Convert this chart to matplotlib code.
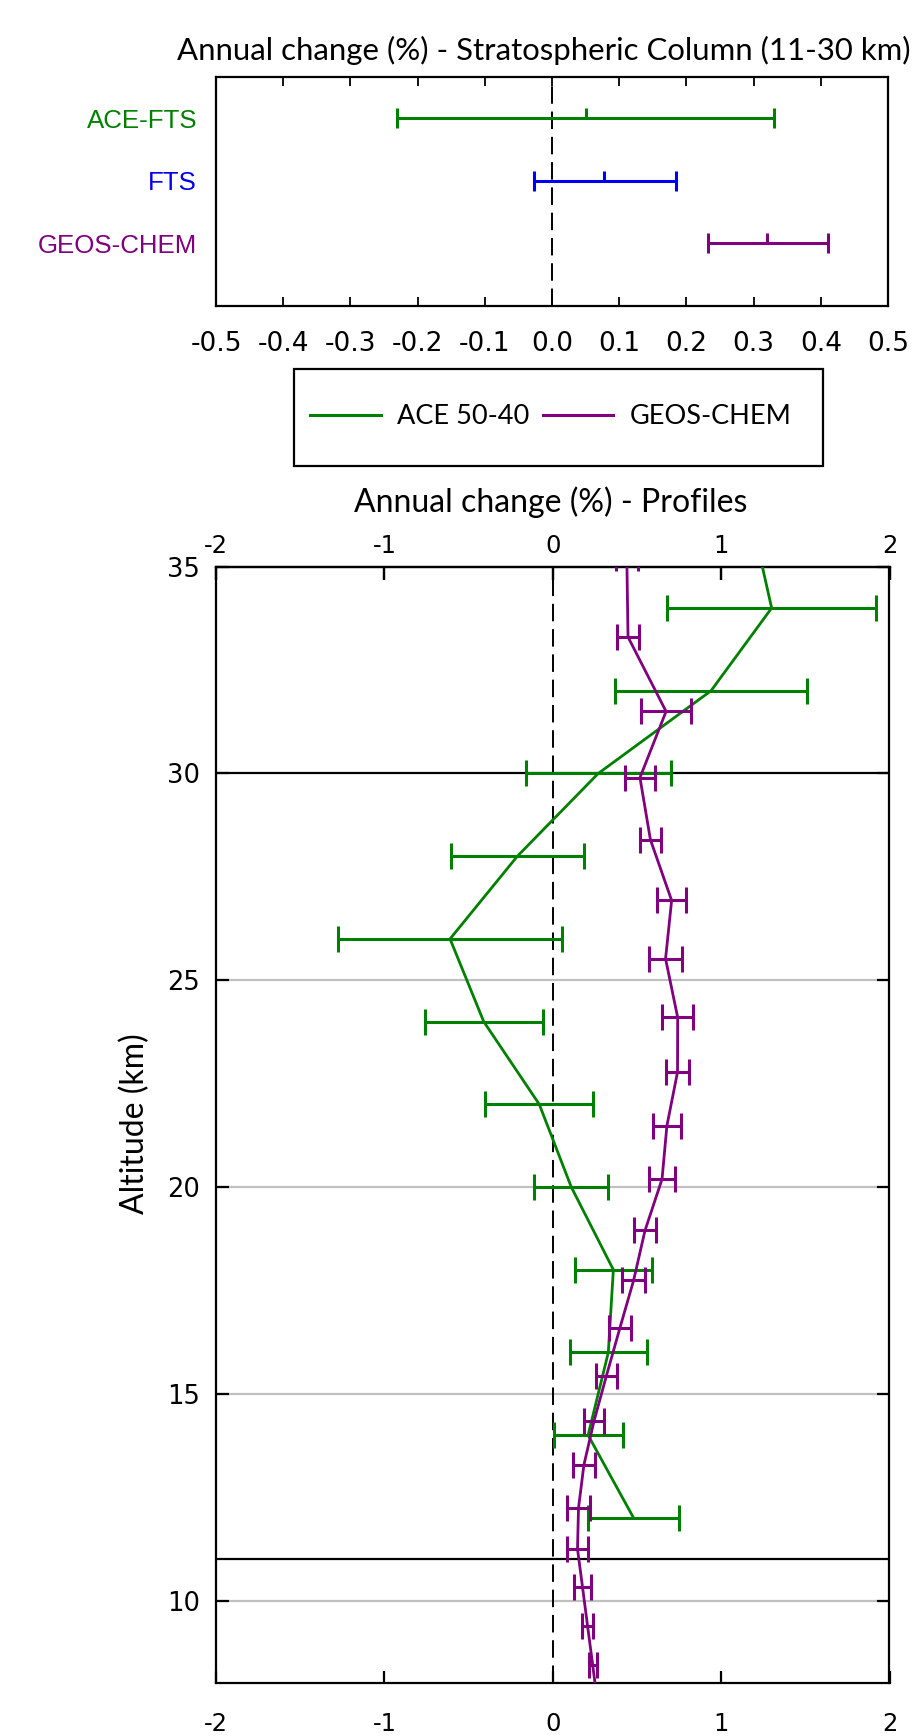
import matplotlib
matplotlib.use('Agg')
import matplotlib.pyplot as plt
from matplotlib.path import Path
from matplotlib.lines import Line2D
from matplotlib.patches import Rectangle
import numpy as np

# ---------------- data ----------------
# Top panel: stratospheric column annual change (%)
col_names = ['ACE-FTS', 'FTS', 'GEOS-CHEM']
col_mean = [0.05, 0.078, 0.32]
col_err_lo = [0.28, 0.105, 0.088]
col_err_hi = [0.28, 0.107, 0.091]
col_colors = ['#008000', '#0000ee', '#800080']

col_xticks = [-0.5, -0.4, -0.3, -0.2, -0.1, 0.0, 0.1, 0.2, 0.3, 0.4, 0.5]
col_xticklabels = ['-0.5', '-0.4', '-0.3', '-0.2', '-0.1', '0.0', '0.1', '0.2', '0.3', '0.4', '0.5']

# Bottom panel: profiles
ace_alt = [12, 14, 16, 18, 20, 22, 24, 26, 28, 30, 32, 34, 36]
ace_val = [0.48, 0.21, 0.33, 0.36, 0.11, -0.08, -0.41, -0.61, -0.21, 0.27, 0.94, 1.30, 1.19]
ace_err = [0.27, 0.205, 0.23, 0.23, 0.22, 0.32, 0.35, 0.665, 0.395, 0.43, 0.57, 0.62, 0.62]

geos_alt = [35.2, 33.3, 31.5, 29.9, 28.4, 26.93, 25.52, 24.1, 22.78, 21.48, 20.19,
            18.95, 17.74, 16.58, 15.44, 14.34, 13.28, 12.24, 11.25, 10.32, 9.38, 8.45, 7.55]
geos_val = [0.44, 0.447, 0.673, 0.518, 0.58, 0.706, 0.67, 0.742, 0.741, 0.678, 0.649,
            0.548, 0.48, 0.398, 0.319, 0.245, 0.185, 0.153, 0.147, 0.177, 0.207, 0.237, 0.265]
geos_err = [0.065, 0.065, 0.15, 0.09, 0.06, 0.085, 0.1, 0.092, 0.07, 0.085, 0.078,
            0.068, 0.07, 0.064, 0.063, 0.061, 0.067, 0.07, 0.065, 0.048, 0.032, 0.023, 0.02]

prof_xticks = [-2, -1, 0, 1, 2]
prof_xticklabels = ['-2', '-1', '0', '1', '2']
prof_yticks = [10, 15, 20, 25, 30, 35]
grid_alts = [10, 15, 20, 25]
bound_alts = [11, 30]

GREEN = '#008000'
PURPLE = '#800080'

# ---------------- figure ----------------
plt.rcParams['font.family'] = ['Lato', 'DejaVu Sans']
W, H = 918, 1736
fig = plt.figure(figsize=(W / 100, H / 100), dpi=100)

TITLEFS = 23
DV = ['DejaVu Sans']

# ---- top panel ----
ax1 = fig.add_axes([216 / W, 1 - 306 / H, 672 / W, (306 - 76.7) / H])
ys = [1, 2, 3]
half_tick = Path([(0, 0), (0, 1)])
for y, m, lo, hi, c in zip(ys, col_mean, col_err_lo, col_err_hi, col_colors):
    ax1.errorbar([m], [y], xerr=[[lo], [hi]], fmt='none', ecolor=c,
                 elinewidth=2.2, capsize=7, capthick=2.2, zorder=3)
    ax1.plot([m], [y], marker=half_tick, markersize=14.5, color=c, mew=2.2,
             ls='none', zorder=4)
ax1.axvline(0, color='k', lw=1.4, dashes=(9, 4), zorder=2)
ax1.set_xlim(-0.5, 0.5)
ax1.set_ylim(4.0, 0.333)
ax1.set_xticks(col_xticks)
ax1.set_xticklabels(col_xticklabels, fontsize=19, family=DV)
ax1.set_yticks(ys)
ax1.set_yticklabels(col_names, fontsize=18.6, family=['Liberation Sans', 'DejaVu Sans'])
for lab, c in zip(ax1.get_yticklabels(), col_colors):
    lab.set_color(c)
ax1.tick_params(axis='x', direction='in', length=6.5, width=1.3, top=True, pad=18.3)
ax1.tick_params(axis='y', length=0, pad=13.5)
for s in ax1.spines.values():
    s.set_linewidth(1.6)

fig.text(177.3 / W, 1 - 60 / H, 'Annual change (%) - Stratospheric Column (11-30 km)',
         ha='left', va='baseline', fontsize=22.4)

# ---- legend ----
fig.add_artist(Rectangle((294.3 / W, 1 - 465.7 / H), (822.5 - 294.3) / W, (465.7 - 369.3) / H,
                         transform=fig.transFigure, fill=False, lw=1.6, edgecolor='k'))
handles = [Line2D([], [], color=GREEN, lw=2.2), Line2D([], [], color=PURPLE, lw=2.2)]
fig.legend(handles, ['ACE 50-40', 'GEOS-CHEM'], loc='center', ncol=2,
           bbox_to_anchor=(551 / W, 1 - 417 / H), frameon=False, fontsize=19.5,
           handlelength=2.6, handletextpad=0.6, columnspacing=0.5)

# ---- profiles panel ----
ax2 = fig.add_axes([216 / W, 1 - 1683.3 / H, (889.5 - 216) / W, (1683.3 - 566.7) / H])
for a in grid_alts:
    ax2.axhline(a, color='#c0c0c0', lw=1.6, zorder=1)
for a in bound_alts:
    ax2.axhline(a, color='k', lw=1.6, zorder=2)
ax2.axvline(0, color='k', lw=1.4, dashes=(9, 4), zorder=2)

ax2.errorbar(ace_val, ace_alt, xerr=ace_err, color=GREEN, lw=2.0, elinewidth=2.2,
             capsize=9.5, capthick=2.2, zorder=3)
ax2.errorbar(geos_val, geos_alt, xerr=geos_err, color=PURPLE, lw=2.0, elinewidth=2.2,
             capsize=9.5, capthick=2.2, zorder=4)

ax2.set_xlim(-2, 2)
ax2.set_ylim(8, 35)
ax2.set_xticks(prof_xticks)
ax2.set_xticklabels(prof_xticklabels, fontsize=17.5, family=DV)
ax2.set_yticks(prof_yticks)
ax2.set_yticklabels([str(v) for v in prof_yticks], fontsize=18.5, family=DV)
ax2.tick_params(axis='both', direction='in', length=9, width=1.6, top=True, right=True)
ax2.tick_params(axis='x', pad=20.5)
ax2.tick_params(axis='y', pad=11.5)
for s in ax2.spines.values():
    s.set_linewidth(1.6)

secx = ax2.secondary_xaxis('top')
secx.set_xticks(prof_xticks)
secx.set_xticklabels(prof_xticklabels, fontsize=17.5, family=DV)
secx.tick_params(direction='in', length=9, width=1.6, pad=6.5)
secx.spines['top'].set_linewidth(1.6)

fig.text(551 / W, 1 - 511.7 / H, 'Annual change (%) - Profiles',
         ha='center', va='baseline', fontsize=TITLEFS)
fig.text(135.3 / W, 1 - 1124 / H, 'Altitude (km)', rotation=90,
         ha='center', va='center', fontsize=TITLEFS)

fig.savefig('out.png', dpi=100)
